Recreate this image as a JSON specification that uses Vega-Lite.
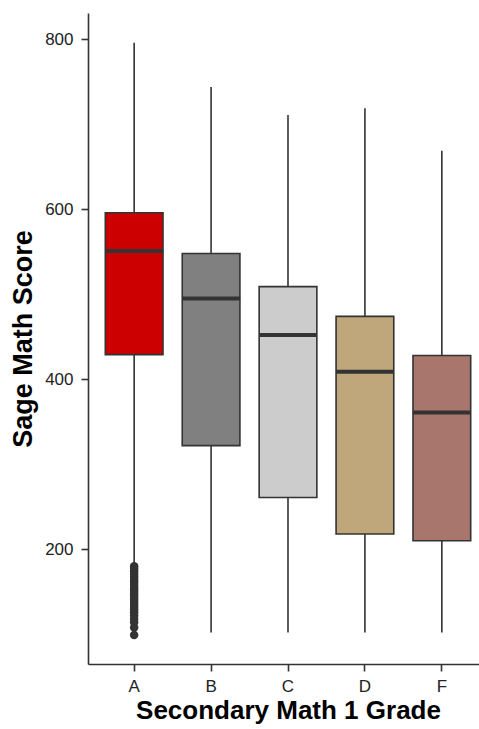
{
  "$schema": "https://vega.github.io/schema/vega-lite/v6.json",
  "autosize": {"type": "none"},
  "padding": {"left": 88, "top": 13, "right": 0, "bottom": 65},
  "width": 391,
  "height": 651,
  "background": "white",
  "config": {
    "view": {"stroke": null},
    "axis": {
      "grid": false,
      "domainColor": "#333333",
      "domainWidth": 1.6,
      "tickColor": "#333333",
      "tickWidth": 1.6,
      "tickSize": 7,
      "labelFont": "Liberation Sans",
      "labelFontSize": 17,
      "labelColor": "#222222",
      "titleFont": "Liberation Sans",
      "titleFontWeight": "bold",
      "titleColor": "#000000"
    }
  },
  "datasets": {
    "stats": [
      {"grade": "A", "lower": 182, "q1": 429, "median": 551, "q3": 596, "upper": 796},
      {"grade": "B", "lower": 102, "q1": 322, "median": 495, "q3": 548, "upper": 744},
      {"grade": "C", "lower": 102, "q1": 261, "median": 452, "q3": 509, "upper": 711},
      {"grade": "D", "lower": 102, "q1": 218, "median": 409, "q3": 474, "upper": 719},
      {"grade": "F", "lower": 102, "q1": 210, "median": 361, "q3": 428, "upper": 669}
    ],
    "outliers": [
      {"grade": "A", "score": 180}, {"grade": "A", "score": 177}, {"grade": "A", "score": 174},
      {"grade": "A", "score": 171}, {"grade": "A", "score": 168}, {"grade": "A", "score": 165},
      {"grade": "A", "score": 162}, {"grade": "A", "score": 159}, {"grade": "A", "score": 156},
      {"grade": "A", "score": 153}, {"grade": "A", "score": 150}, {"grade": "A", "score": 147},
      {"grade": "A", "score": 144}, {"grade": "A", "score": 141}, {"grade": "A", "score": 138},
      {"grade": "A", "score": 135}, {"grade": "A", "score": 132}, {"grade": "A", "score": 129},
      {"grade": "A", "score": 126}, {"grade": "A", "score": 122}, {"grade": "A", "score": 118},
      {"grade": "A", "score": 114}, {"grade": "A", "score": 108}, {"grade": "A", "score": 99}
    ]
  },
  "layer": [
    {
      "data": {"name": "stats"},
      "mark": {"type": "rule", "color": "#333333", "strokeWidth": 1.6},
      "encoding": {
        "x": {"field": "grade", "type": "nominal"},
        "y": {"field": "lower", "type": "quantitative"},
        "y2": {"field": "upper"}
      }
    },
    {
      "data": {"name": "stats"},
      "mark": {"type": "bar", "stroke": "#333333", "strokeWidth": 1.6, "width": {"band": 0.75}},
      "encoding": {
        "x": {"field": "grade", "type": "nominal"},
        "y": {"field": "q1", "type": "quantitative"},
        "y2": {"field": "q3"},
        "fill": {
          "field": "grade", "type": "nominal", "legend": null,
          "scale": {"domain": ["A", "B", "C", "D", "F"], "range": ["#CC0000", "#808080", "#CCCCCC", "#BFA77B", "#A8766C"]}
        }
      }
    },
    {
      "data": {"name": "stats"},
      "mark": {"type": "tick", "color": "#333333", "thickness": 4, "size": 58, "opacity": 1},
      "encoding": {
        "x": {"field": "grade", "type": "nominal"},
        "y": {"field": "median", "type": "quantitative"}
      }
    },
    {
      "data": {"name": "outliers"},
      "mark": {"type": "circle", "color": "#333333", "size": 72, "opacity": 1},
      "encoding": {
        "x": {"field": "grade", "type": "nominal"},
        "y": {"field": "score", "type": "quantitative"}
      }
    }
  ],
  "encoding": {
    "x": {
      "field": "grade", "type": "nominal",
      "scale": {"type": "band", "domain": ["A", "B", "C", "D", "F"], "range": [0, 400], "paddingInner": 0, "paddingOuter": 0.1},
      "axis": {"title": "Secondary Math 1 Grade", "labelAngle": 0, "labelPadding": 7, "titleFontSize": 26, "titlePadding": 3}
    },
    "y": {
      "type": "quantitative",
      "scale": {"domain": [65, 831], "nice": false, "zero": false},
      "axis": {"title": "Sage Math Score", "values": [200, 400, 600, 800], "labelPadding": 8, "titleFontSize": 27, "titlePadding": 7}
    }
  }
}
